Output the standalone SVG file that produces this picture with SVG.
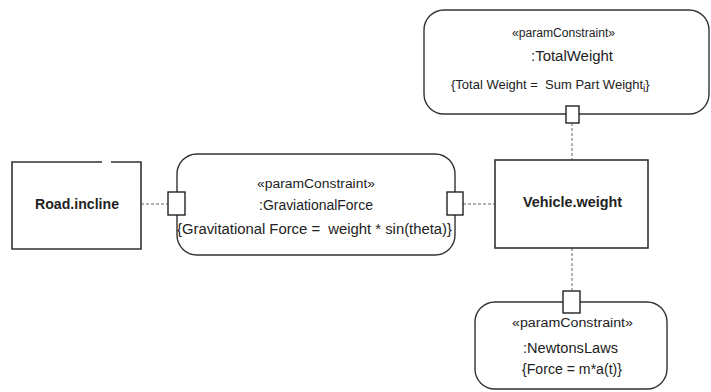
<svg xmlns="http://www.w3.org/2000/svg" width="711" height="392" viewBox="0 0 711 392">
<style>
.blk{fill:#fff;stroke:#333;stroke-width:1.6}
.cst{fill:#fff;stroke:#333;stroke-width:1.4}
.port{fill:#fff;stroke:#222;stroke-width:1.4}
.con{fill:none;stroke:#999;stroke-width:1.5;stroke-dasharray:3,2}
text{font-family:"Liberation Sans",Arial,sans-serif;fill:#222;white-space:pre}
.b{font-weight:bold;font-size:14px}
.st{font-size:12px}
.t{font-size:14px}
.s{font-size:13px}
.sub{font-size:10px}
</style>
<rect width="711" height="392" fill="#fff"/>
<g id="connectors">
<line class="con" x1="141" y1="204" x2="168" y2="204"/>
<line class="con" x1="463" y1="204" x2="495" y2="204"/>
<line class="con" x1="572" y1="123" x2="572" y2="160"/>
<line class="con" x1="572" y1="248" x2="572" y2="291"/>
</g>
<g id="road">
<path class="blk" d="M102,162 H12 V249 H141 V162 H111" fill="#fff"/>
<text class="b" x="35" y="209" textLength="84" lengthAdjust="spacingAndGlyphs">Road.incline</text>
</g>
<g id="gravitational">
<rect class="cst" x="177" y="154" width="278" height="101" rx="20" ry="20"/>
<text class="st" x="257" y="188" textLength="118" lengthAdjust="spacingAndGlyphs">«paramConstraint»</text>
<text class="t" x="259" y="210" textLength="114" lengthAdjust="spacingAndGlyphs">:GraviationalForce</text>
<text class="t" x="177" y="234" textLength="275" lengthAdjust="spacingAndGlyphs" xml:space="preserve">{Gravitational Force =  weight * sin(theta)}</text>
<rect class="port" x="168" y="192" width="17" height="23"/>
<rect class="port" x="447" y="192" width="16" height="23"/>
</g>
<g id="vehicle">
<rect class="blk" x="495" y="160" width="153" height="88"/>
<text class="b" x="523" y="207" textLength="99" lengthAdjust="spacingAndGlyphs">Vehicle.weight</text>
</g>
<g id="totalweight">
<rect class="cst" x="424" y="10" width="285" height="104" rx="20" ry="20"/>
<text class="st" x="512" y="37" textLength="103" lengthAdjust="spacingAndGlyphs">«paramConstraint»</text>
<text class="t" x="531" y="61" textLength="82" lengthAdjust="spacingAndGlyphs">:TotalWeight</text>
<text class="s" x="451" y="89" xml:space="preserve">{Total Weight =  Sum Part Weight<tspan class="sub" dy="3">i</tspan><tspan dy="-3">}</tspan></text>
<rect class="port" x="566" y="106" width="13" height="17"/>
</g>
<g id="newtons">
<rect class="cst" x="475" y="302" width="192" height="87" rx="20" ry="20"/>
<text class="st" x="512" y="327" textLength="121" lengthAdjust="spacingAndGlyphs">«paramConstraint»</text>
<text class="t" x="523" y="353" textLength="95" lengthAdjust="spacingAndGlyphs">:NewtonsLaws</text>
<text class="t" x="522" y="374" textLength="100" lengthAdjust="spacingAndGlyphs">{Force = m*a(t)}</text>
<rect class="port" x="563" y="291" width="17" height="22"/>
</g>
</svg>
